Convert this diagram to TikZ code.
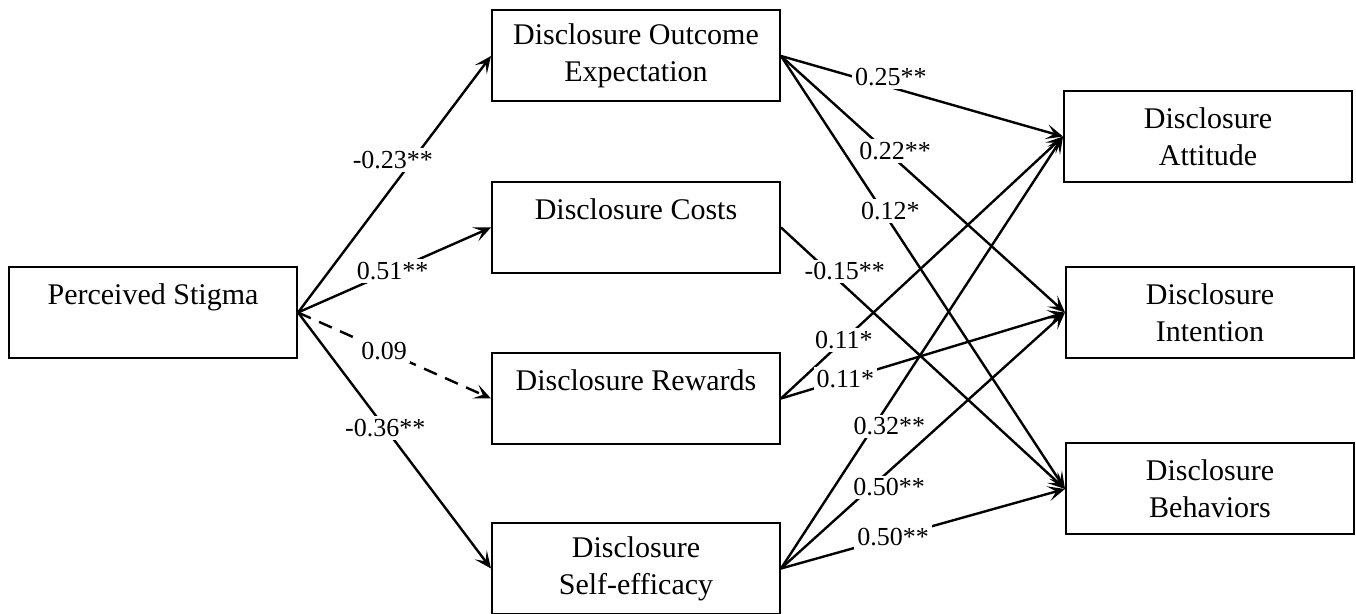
\documentclass[tikz,border=0pt]{standalone}
\usepackage{fontspec}
\setmainfont{Liberation Serif}
\usetikzlibrary{arrows.meta}
\begin{document}
\begin{tikzpicture}[x=0.5pt,y=-0.5pt,
  box/.style={draw, line width=1pt, minimum width=144pt, minimum height=45.5pt,
    align=center, inner sep=0pt, font=\fontsize{15}{18.5}\selectfont},
  conn/.style={line width=1.2pt, -{Stealth[length=8.5pt,width=7.5pt,inset=4pt]}},
  lbl/.style={fill=white, inner sep=1.5pt, font=\fontsize{13}{15}\selectfont}]
\useasboundingbox (0,0) rectangle (1356,614);

\node[box] (PS)  at (153,312.5) {Perceived Stigma\\~};
\node[box] (DOE) at (636,56)    {Disclosure Outcome\\Expectation};
\node[box] (DC)  at (636,227.5) {Disclosure Costs\\~};
\node[box] (DR)  at (636,398.5) {Disclosure Rewards\\~};
\node[box] (DSE) at (636,568.5) {Disclosure\\Self-efficacy};
\node[box] (DA)  at (1208,136.5) {Disclosure\\Attitude};
\node[box] (DI)  at (1210,312.5) {Disclosure\\Intention};
\node[box] (DB)  at (1210,489)   {Disclosure\\Behaviors};

\draw[conn] (PS.east) -- node[lbl,pos=0.595,xshift=-10pt] {-0.23**} (DOE.west);
\draw[conn] (PS.east) -- node[lbl,pos=0.49] {0.51**} (DC.west);
\draw[conn,dash pattern=on 7pt off 4.5pt] (PS.east) -- node[lbl,pos=0.446] {0.09} (DR.west);
\draw[conn] (PS.east) -- node[lbl,pos=0.452] {-0.36**} (DSE.west);

\draw[conn] (DOE.east) -- node[lbl,pos=0.39,yshift=5pt] {0.25**} (DA.west);
\draw[conn] (DOE.east) -- node[lbl,pos=0.37,xshift=4.5pt] {0.22**} (DI.west);
\draw[conn] (DOE.east) -- node[lbl,pos=0.358,xshift=3.8pt] {0.12*} (DB.west);
\draw[conn] (DC.east) -- node[lbl,pos=0.168,xshift=8pt] {-0.15**} (DB.west);
\draw[conn] (DR.east) -- node[lbl,pos=0.223] {0.11*} (DA.west);
\draw[conn] (DR.east) -- node[lbl,pos=0.227] {0.11*} (DI.west);
\draw[conn] (DSE.east) -- node[lbl,pos=0.329,xshift=7.75pt] {0.32**} (DA.west);
\draw[conn] (DSE.east) -- node[lbl,pos=0.317,xshift=9pt] {0.50**} (DI.west);
\draw[conn] (DSE.east) -- node[lbl,pos=0.395] {0.50**} (DB.west);
\end{tikzpicture}
\end{document}
